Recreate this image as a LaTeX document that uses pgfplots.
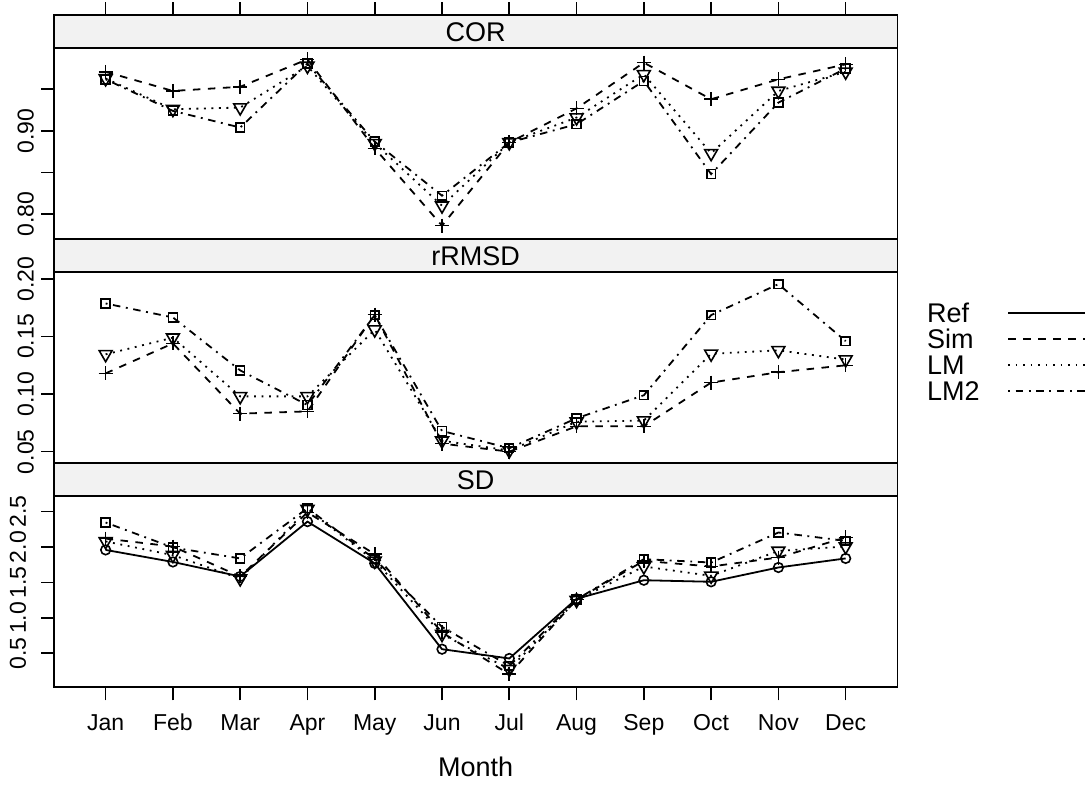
\documentclass[border=0pt]{standalone}
\usepackage{fontspec}
\setmainfont{Liberation Sans}
\usepackage{pgfplots}
\pgfplotsset{compat=1.18}
\definecolor{stripgray}{RGB}{242,242,242}
\tikzset{striptext/.style={font=\fontsize{13.5}{16}\selectfont}}
\pgfplotsset{
  base/.style={scale only axis, width=421.65pt, anchor=south west,
    xmin=0.2325, xmax=12.7675,
    axis line style={line width=0.8pt},
    every tick/.style={line width=0.8pt, black},
    major tick length=6.5pt, tick align=outside,
    /pgf/number format/assume math mode=true,
    tick label style={font=\fontsize{11.5}{13.5}\selectfont},
    clip=false},
  panel/.style={base, height=95.5pt, ytick pos=left, xtick=\empty,
    yticklabel style={rotate=90, anchor=south}},
  strip/.style={base, height=16.5pt, ymin=0, ymax=1, xtick=\empty, ytick=\empty,
    axis background/.style={fill=stripgray}},
  ref/.style={black, solid, line width=0.9pt, mark=o, mark size=2.4pt, mark options={solid, line width=0.8pt}},
  sim/.style={black, line width=0.9pt, dash pattern=on 3.75pt off 3.75pt, mark=+, mark size=3.5pt, mark options={solid, line width=0.8pt}},
  lm/.style={black, line width=0.9pt, dash pattern=on 0.94pt off 2.81pt, mark=triangle, mark size=3.7pt, mark options={solid, rotate=180, line width=0.8pt}},
  lmtwo/.style={black, line width=0.9pt, dash pattern=on 0.94pt off 2.81pt on 3.75pt off 2.81pt, mark=square, mark size=2.2pt, mark options={solid, line width=0.8pt}},
}
\begin{document}
\begin{tikzpicture}
\path[use as bounding box] (0,0) rectangle (545.5pt,392.5pt);
% ---------- COR ----------
\begin{axis}[panel, at={(27pt,272.85pt)}, ymin=0.7696, ymax=0.9993,
  ytick={0.80,0.85,0.90,0.95}, yticklabels={0.80,,0.90,}]
\addplot[sim] coordinates {(1,0.971)(2,0.948)(3,0.953)(4,0.986)(5,0.879)(6,0.786)(7,0.886)(8,0.927)(9,0.982)(10,0.938)(11,0.962)(12,0.980)};
\addplot[lm] coordinates {(1,0.963)(2,0.926)(3,0.928)(4,0.978)(5,0.885)(6,0.810)(7,0.886)(8,0.916)(9,0.968)(10,0.873)(11,0.948)(12,0.971)};
\addplot[lmtwo] coordinates {(1,0.962)(2,0.924)(3,0.904)(4,0.981)(5,0.887)(6,0.822)(7,0.886)(8,0.908)(9,0.960)(10,0.848)(11,0.934)(12,0.975)};
\end{axis}
\begin{axis}[strip, at={(27pt,368.35pt)}, xtick={1,...,12}, xtick pos=right, xticklabels={}]
\node[striptext] at (rel axis cs:0.5,0.5) {COR};
\end{axis}
% ---------- rRMSD ----------
\begin{axis}[panel, at={(27pt,160.85pt)}, ymin=0.0399, ymax=0.2058,
  ytick={0.05,0.10,0.15,0.20}, yticklabels={0.05,0.10,0.15,0.20}]
\addplot[sim] coordinates {(1,0.118)(2,0.144)(3,0.083)(4,0.085)(5,0.169)(6,0.057)(7,0.050)(8,0.072)(9,0.072)(10,0.110)(11,0.119)(12,0.125)};
\addplot[lm] coordinates {(1,0.1345)(2,0.149)(3,0.098)(4,0.098)(5,0.156)(6,0.0595)(7,0.051)(8,0.076)(9,0.077)(10,0.135)(11,0.138)(12,0.130)};
\addplot[lmtwo] coordinates {(1,0.1787)(2,0.1666)(3,0.1206)(4,0.0905)(5,0.1686)(6,0.068)(7,0.053)(8,0.079)(9,0.099)(10,0.1686)(11,0.1955)(12,0.146)};
\end{axis}
\begin{axis}[strip, at={(27pt,256.35pt)}]
\node[striptext] at (rel axis cs:0.5,0.5) {rRMSD};
\end{axis}
% ---------- SD ----------
\begin{axis}[panel, at={(27pt,48.85pt)}, ymin=0.0198, ymax=2.7175,
  ytick={0.5,1.0,1.5,2.0,2.5}, yticklabels={0.5,1.0,1.5,2.0,2.5},
  xtick={1,...,12}, xtick pos=left,
  xticklabels={Jan,Feb,Mar,Apr,May,Jun,Jul,Aug,Sep,Oct,Nov,Dec},
  typeset ticklabels with strut,
  xticklabel style={yshift=-2.3pt},
  xlabel={Month}, xlabel style={font=\fontsize{13.5}{16}\selectfont, yshift=-2pt}]
\addplot[ref] coordinates {(1,1.96)(2,1.79)(3,1.585)(4,2.36)(5,1.77)(6,0.558)(7,0.427)(8,1.27)(9,1.532)(10,1.51)(11,1.712)(12,1.84)};
\addplot[sim] coordinates {(1,2.12)(2,2.008)(3,1.585)(4,2.49)(5,1.90)(6,0.794)(7,0.205)(8,1.26)(9,1.805)(10,1.726)(11,1.853)(12,2.136)};
\addplot[lm] coordinates {(1,2.08)(2,1.886)(3,1.556)(4,2.535)(5,1.805)(6,0.77)(7,0.276)(8,1.25)(9,1.726)(10,1.594)(11,1.946)(12,2.008)};
\addplot[lmtwo] coordinates {(1,2.347)(2,1.994)(3,1.84)(4,2.55)(5,1.83)(6,0.873)(7,0.322)(8,1.26)(9,1.83)(10,1.782)(11,2.206)(12,2.088)};
\end{axis}
\begin{axis}[strip, at={(27pt,144.35pt)}]
\node[striptext] at (rel axis cs:0.5,0.5) {SD};
\end{axis}
% ---------- legend ----------
\begin{scope}[every node/.style={anchor=west, inner sep=0pt, font=\fontsize{13.5}{16}\selectfont}]
\node at (463.35pt,236pt) {Ref};
\node at (463.35pt,223pt) {Sim};
\node at (463.35pt,210pt) {LM};
\node at (463.35pt,197pt) {LM2};
\draw[black, line width=0.9pt] (504pt,236pt) -- (542.5pt,236pt);
\draw[black, line width=0.9pt, dash pattern=on 3.75pt off 3.75pt] (504pt,223pt) -- (542.5pt,223pt);
\draw[black, line width=0.9pt, dash pattern=on 0.94pt off 2.81pt] (504pt,210pt) -- (542.5pt,210pt);
\draw[black, line width=0.9pt, dash pattern=on 0.94pt off 2.81pt on 3.75pt off 2.81pt] (504pt,197pt) -- (542.5pt,197pt);
\end{scope}
\end{tikzpicture}
\end{document}
